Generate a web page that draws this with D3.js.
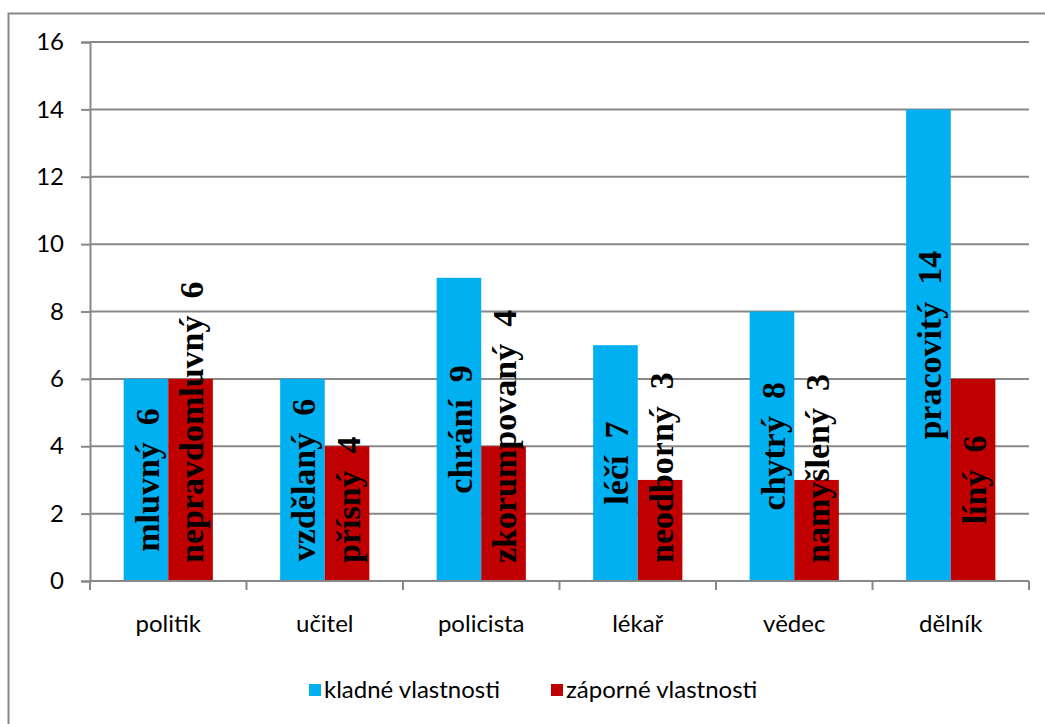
<!DOCTYPE html>
<html>
<head>
<meta charset="utf-8">
<script src="https://cdn.jsdelivr.net/npm/d3@7"></script>
<style>
  body { margin: 0; background: #fff; }
  svg { display: block; }
</style>
</head>
<body>
<div id="chart"></div>
<script>
const categories = ["politik", "učitel", "policista", "lékař", "vědec", "dělník"];
const seriesNames = ["kladné vlastnosti", "záporné vlastnosti"];
const positive = [6, 6, 9, 7, 8, 14];
const negative = [6, 4, 4, 3, 3, 6];
const positiveWords = ["mluvný", "vzdělaný", "chrání", "léčí", "chytrý", "pracovitý"];
const negativeWords = ["nepravdomluvný", "přísný", "zkorumpovaný", "neodborný", "namyšlený", "líný"];
const yTicks = [0, 2, 4, 6, 8, 10, 12, 14, 16];

const colors = ["#00B0F0", "#C00000"];
const grey = "#888888";
const sans = "Lato, 'Open Sans', sans-serif";

const w = 1045;
const h = 724;
const plot = { left: 90, right: 1029, top: 42, bottom: 581 };

const svg = d3
  .select("#chart")
  .append("svg")
  .attr("width", w)
  .attr("height", h);

// outer chart border (runs off the right and bottom edge)
svg
  .append("rect")
  .attr("x", 8.5)
  .attr("y", 13.5)
  .attr("width", w + 20)
  .attr("height", h + 20)
  .attr("fill", "none")
  .attr("stroke", grey)
  .attr("stroke-width", 2);

const x0 = d3
  .scaleBand()
  .domain(categories)
  .range([plot.left, plot.right])
  .paddingInner(0.43)
  .paddingOuter(0.215);

const x1 = d3.scaleBand().domain([0, 1]).range([0, x0.bandwidth()]);

const y = d3.scaleLinear().domain([0, 16]).range([plot.bottom, plot.top]);

// y axis
const yAxis = svg
  .append("g")
  .attr("transform", `translate(${plot.left},0)`)
  .call(d3.axisLeft(y).tickValues(yTicks).tickSize(9).tickPadding(17));
yAxis.select(".domain").attr("stroke", grey).attr("stroke-width", 2);
yAxis.selectAll(".tick line").attr("stroke", grey).attr("stroke-width", 2);
yAxis
  .selectAll(".tick text")
  .attr("fill", "#000")
  .style("font-family", sans)
  .style("font-size", "24px");

// gridlines
svg
  .append("g")
  .selectAll("line")
  .data(yTicks.filter((d) => d > 0))
  .join("line")
  .attr("x1", plot.left)
  .attr("x2", plot.right)
  .attr("y1", (d) => y(d))
  .attr("y2", (d) => y(d))
  .attr("stroke", grey)
  .attr("stroke-width", 2);

// bars
const rows = categories.map((c, i) => ({
  category: c,
  values: [
    { s: 0, value: positive[i], word: positiveWords[i] },
    { s: 1, value: negative[i], word: negativeWords[i] },
  ],
}));

const groups = svg
  .append("g")
  .selectAll("g")
  .data(rows)
  .join("g")
  .attr("transform", (d) => `translate(${x0(d.category)},0)`);

groups
  .selectAll("rect")
  .data((d) => d.values)
  .join("rect")
  .attr("x", (d) => x1(d.s))
  .attr("y", (d) => y(d.value))
  .attr("width", x1.bandwidth())
  .attr("height", (d) => y(0) - y(d.value))
  .attr("fill", (d) => colors[d.s]);

// x axis
svg
  .append("line")
  .attr("x1", plot.left)
  .attr("x2", plot.right)
  .attr("y1", plot.bottom)
  .attr("y2", plot.bottom)
  .attr("stroke", grey)
  .attr("stroke-width", 2);

const bounds = d3.range(categories.length + 1).map((i) => plot.left + i * x0.step());
svg
  .append("g")
  .selectAll("line")
  .data(bounds)
  .join("line")
  .attr("x1", (d) => d)
  .attr("x2", (d) => d)
  .attr("y1", plot.bottom)
  .attr("y2", plot.bottom + 9)
  .attr("stroke", grey)
  .attr("stroke-width", 2);

svg
  .append("g")
  .selectAll("text")
  .data(categories)
  .join("text")
  .attr("x", (d) => x0(d) + x0.bandwidth() / 2)
  .attr("y", 632)
  .attr("text-anchor", "middle")
  .style("font-family", sans)
  .style("font-size", "24px")
  .text((d) => d);

// rotated data labels: centred in the bar, but never starting below the base
const labels = groups
  .selectAll("text")
  .data((d) => d.values)
  .join("text")
  .attr("dy", "0.38em")
  .style("font-family", "'Liberation Serif', 'Times New Roman', serif")
  .style("font-weight", "bold")
  .style("font-size", "34px")
  .style("white-space", "pre")
  .attr("fill", "#000")
  .text((d) => d.word + "  " + d.value);

labels.each(function (d) {
  const len = this.getComputedTextLength();
  const cx = x1(d.s) + x1.bandwidth() / 2;
  const mid = (y(d.value) + y(0)) / 2;
  const start = Math.min(mid + len / 2, y(0) - 18);
  d3.select(this).attr("transform", `translate(${cx},${start}) rotate(-90)`);
});

// legend
const legend = svg
  .append("g")
  .selectAll("g")
  .data(seriesNames)
  .join("g")
  .attr("transform", (d, i) => `translate(${i === 0 ? 309 : 551},684)`);

legend
  .append("rect")
  .attr("width", 12)
  .attr("height", 12)
  .attr("fill", (d, i) => colors[i]);

legend
  .append("text")
  .attr("x", 15)
  .attr("y", 14)
  .style("font-family", sans)
  .style("font-size", "24px")
  .text((d) => d);
</script>
</body>
</html>
